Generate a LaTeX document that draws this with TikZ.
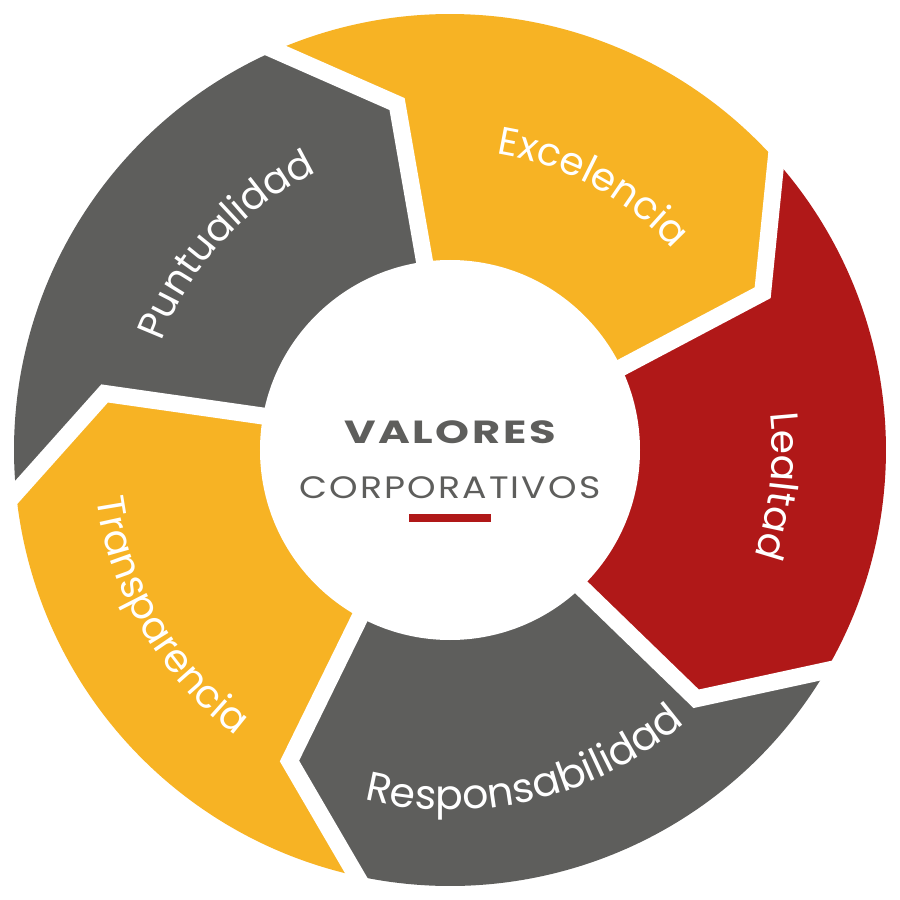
\documentclass[tikz,border=0pt]{standalone}
\usepackage{fontspec}
\newfontfamily\lblfont{Poppins}
\newfontfamily\ctrreg{Poppins}[LetterSpace=6]
\newfontfamily\ctrbold{Poppins}[LetterSpace=6]
\usetikzlibrary{decorations.text,calc}
\definecolor{ryellow}{HTML}{F7B324}
\definecolor{rgrey}{HTML}{5E5E5C}
\definecolor{rred}{HTML}{B01818}
\tikzset{
  gapline/.style={white, line width=17pt},
  lbltext/.style={decorate, decoration={text along path, text align=center, text color=white,
      text={|\lblfont\fontsize{39}{39}\selectfont|#1}}},
  lbltextbig/.style={decorate, decoration={text along path, text align=center, text color=white,
      text={|\lblfont\fontsize{41}{41}\selectfont|#1}}},
  ctrtext/.style={text=rgrey, inner sep=0pt}
}
\begin{document}
\begin{tikzpicture}[x=1pt,y=1pt]
\useasboundingbox (-450,-450) rectangle (450,450);
\fill[white] (-450,-450) rectangle (450,450);
% boundary points
\foreach \k/\t in {1/97.7,2/25.7,3/-46.3,4/-118.3,5/-190.3}{
  \coordinate (i\k) at (\t:190);
  \coordinate (m\k) at (\t+1:350);
  \coordinate (o\k) at (\t+15.9:436);
}
% segments
\fill[ryellow] (i1) -- (m1) -- (o1) arc[start angle=113.6, end angle=41.6, radius=436] -- (m2) -- (i2) -- (0,0) -- cycle;
\fill[rred] (i2) -- (m2) -- (o2) arc[start angle=41.6, end angle=-30.4, radius=436] -- (m3) -- (i3) -- (0,0) -- cycle;
\fill[rgrey] (i3) -- (m3) -- (o3) arc[start angle=-30.4, end angle=-102.4, radius=436] -- (m4) -- (i4) -- (0,0) -- cycle;
\fill[ryellow] (i4) -- (m4) -- (o4) arc[start angle=-102.4, end angle=-174.4, radius=436] -- (m5) -- (i5) -- (0,0) -- cycle;
\fill[rgrey] (i5) -- (m5) -- (o5) arc[start angle=-174.4, end angle=-246.4, radius=436] -- (m1) -- (i1) -- (0,0) -- cycle;
% gaps
\foreach \k in {1,...,5}{
  \draw[gapline] ($(m\k)!1.4!(i\k)$) -- (m\k) -- ($(m\k)!1.3!(o\k)$);
}
% centre disc
\fill[white] (0,0) circle[radius=190];
% labels
\path[lbltext=Excelencia] (101.5:300) arc[start angle=101.5, end angle=21.5, radius=300];
\path[lbltext=Lealtad] (33.7:322) arc[start angle=33.7, end angle=-46.3, radius=322];
\path[lbltextbig=Responsabilidad] (-116.5:360) arc[start angle=-116.5, end angle=-36.5, radius=360];
\path[lbltext=Transparencia] (170.5:357) arc[start angle=170.5, end angle=250.5, radius=357];
\path[lbltext=Puntualidad] (177.5:308) arc[start angle=177.5, end angle=97.5, radius=308];
% centre text
\node[ctrtext] (valores) at (0,17.5) {\scalebox{1.35}[1]{\ctrbold\bfseries\fontsize{32}{32}\selectfont VALORES}};
\node[ctrtext] (corp) at (0,-37.5) {\scalebox{1.17}[1]{\ctrreg\fontsize{31}{31}\selectfont CORPORATIVOS}};
\fill[rred] (-40.5,-64) rectangle (41.5,-71.7);
\end{tikzpicture}
\end{document}
